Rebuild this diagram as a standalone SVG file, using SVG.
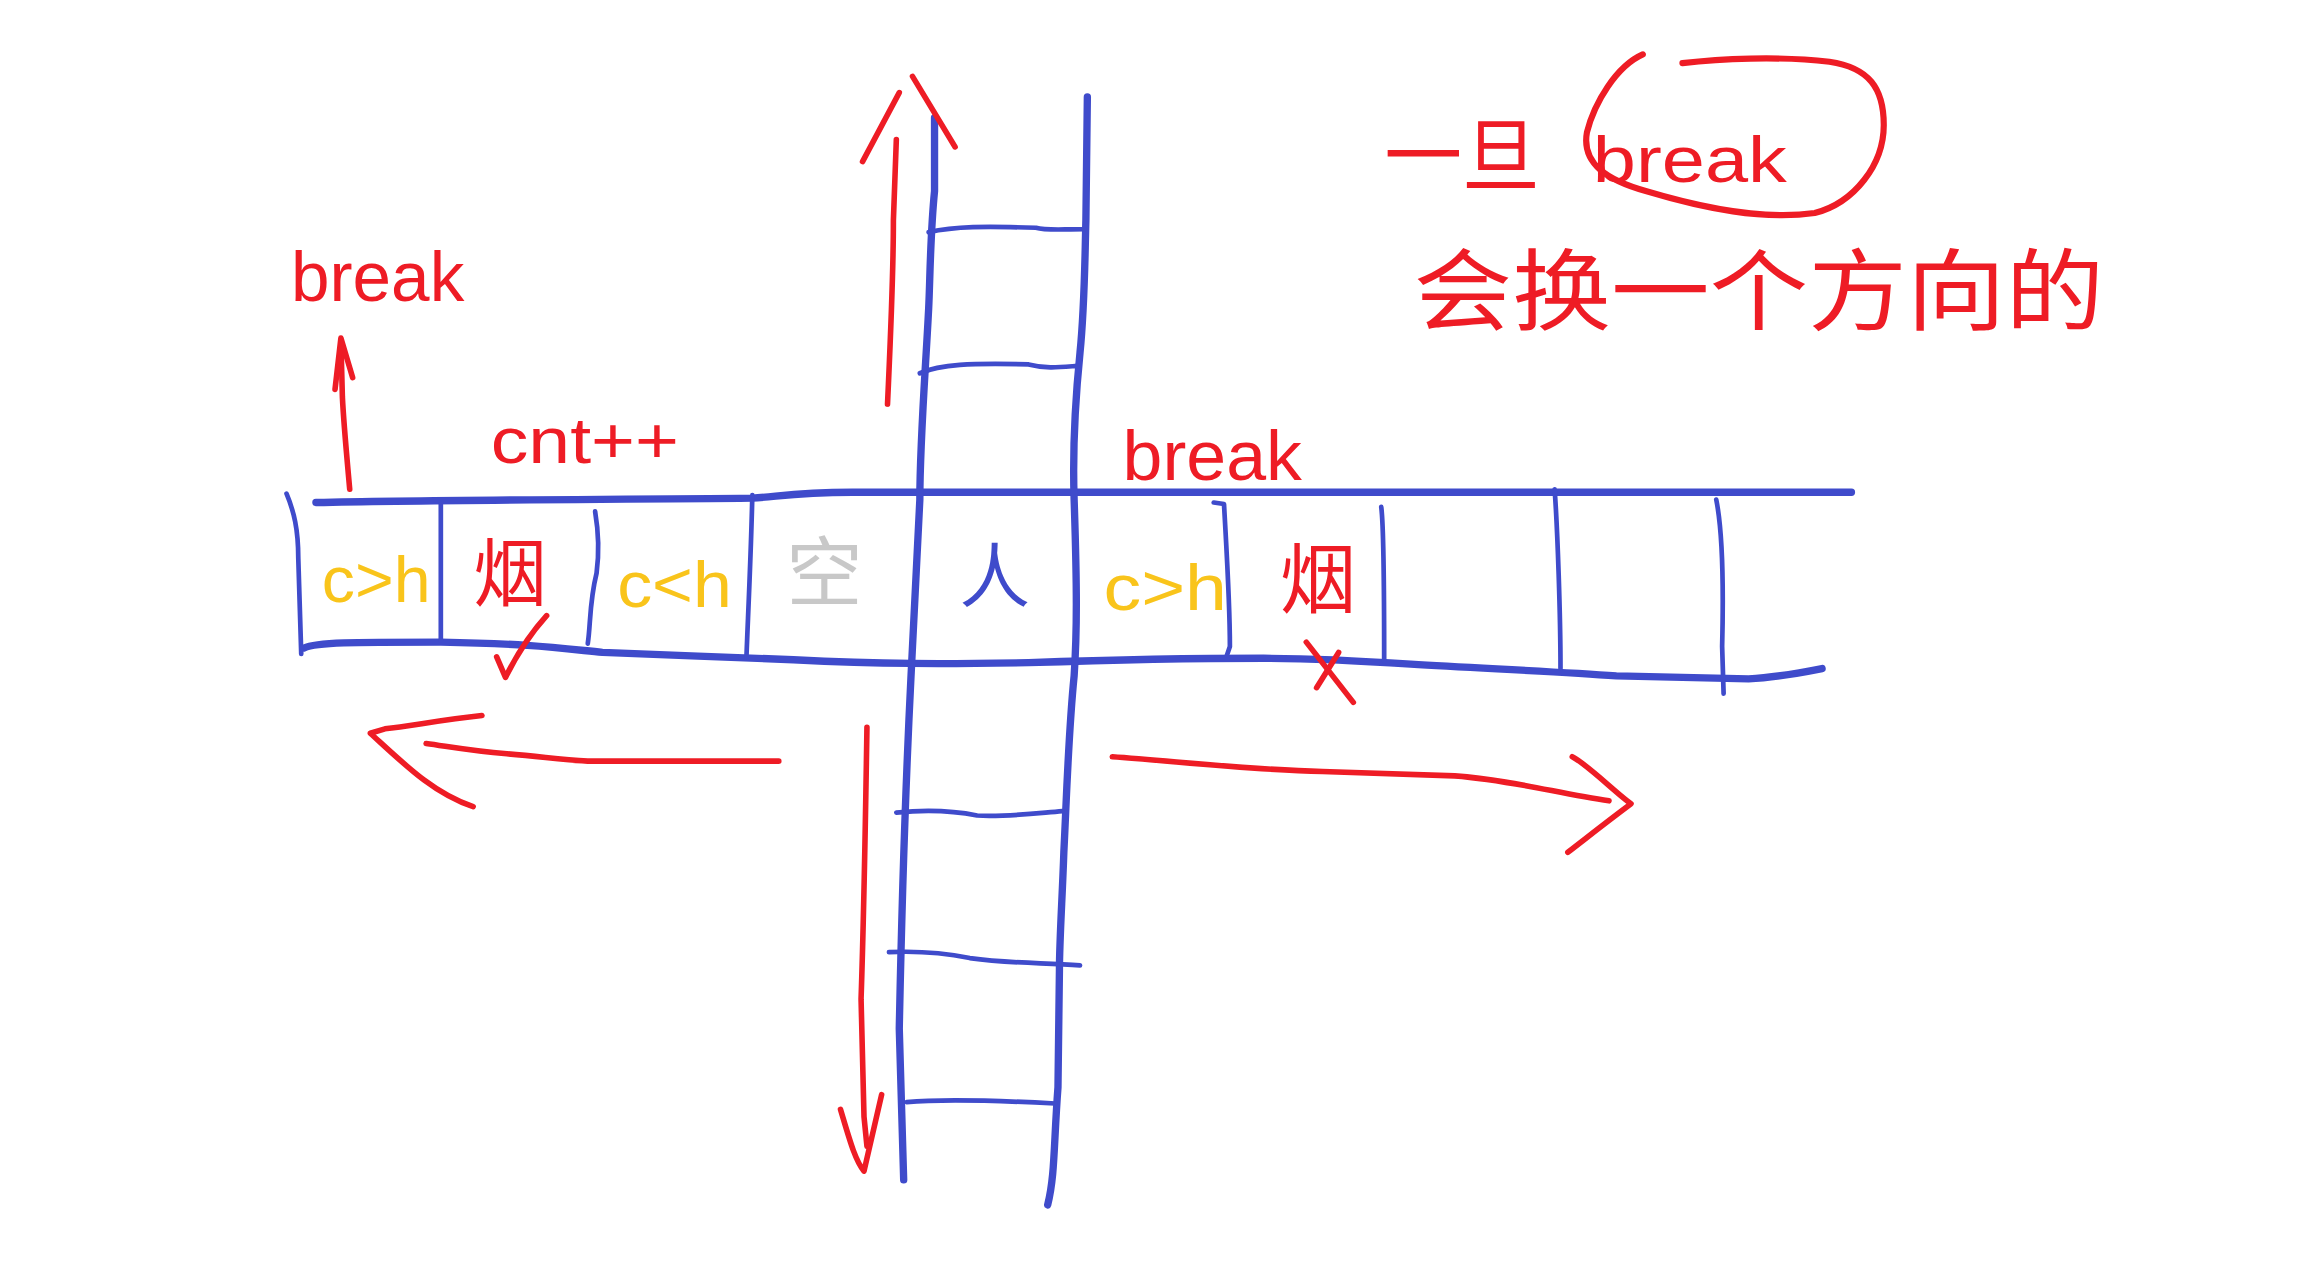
<svg xmlns="http://www.w3.org/2000/svg" width="2304" height="1266" viewBox="0 0 2304 1266">
<style>
.b{fill:none;stroke:#3F4BCB;stroke-linecap:round;stroke-linejoin:round}
.bt{stroke-width:5}
.bn{stroke-width:3.2}
.r{fill:none;stroke:#EE1C25;stroke-width:3.8;stroke-linecap:round;stroke-linejoin:round}
.t{font-family:"Liberation Sans","Noto Sans CJK SC",sans-serif}
.red{fill:#EE1C25}
.yel{fill:#F9C41B}
.gry{fill:#C8C8C8}
.blu{fill:#3F4BCB}
</style>
<rect width="2304" height="1266" fill="#fff"/>
<g transform="scale(1.4694)">
<g id="band-horizontal">
<path class="b bt" d="M215,342 C300,340 420,340 512,339 C530,338 540,335 580,335 L1260,335"/>
<path class="b bt" d="M207,441 C215,437 240,437 300,437 C360,438 380,441 410,444 C460,446 490,447 540,449 C600,452 640,452 700,451 C760,449 800,448 860,448 C900,448 930,450 960,452 C1010,455 1060,457 1100,460 L1190,462 C1210,461 1225,458 1240,455"/>
<path class="b bn" d="M195,336 C200,348 203,360 203,380 L205,445"/>
<path class="b bn" d="M300,343 L300,436"/>
<path class="b bn" d="M405,348 C407,360 408,375 406,390 C401,410 402,425 400,438"/>
<path class="b bn" d="M512,337 C511,380 509,420 508,447"/>
<path class="b bn" d="M826,342 L833,343 C835,380 837,410 837,440 L835,446"/>
<path class="b bn" d="M940,345 C942,360 942,420 942,450"/>
<path class="b bn" d="M1058,333 C1060,360 1062,420 1062,455"/>
<path class="b bn" d="M1168,340 C1172,360 1173,400 1172,440 L1173,472"/>
</g>
<g id="band-vertical">
<path class="b bt" d="M636,80 L636,130 C633,160 633,190 632,210 C630,250 626,300 626,340 L620,460 C617,520 614,600 612,700 L615,803"/>
<path class="b bt" d="M740,66 L739,150 C738,190 738,210 735,240 C731,280 730,310 731,340 C733,400 733,430 731,460 C727,500 726,540 724,580 C723,610 721,640 721,660 L720,740 C717,780 718,800 713,820"/>
<path class="b bn" d="M632,158 C650,154 670,154 705,155 C712,157 720,156 738,156"/>
<path class="b bn" d="M626,254 C640,248 660,247 700,248 C712,251 720,250 733,249"/>
<path class="b bn" d="M610,553 C630,551 650,552 665,555 C685,556 700,554 723,552"/>
<path class="b bn" d="M605,648 C625,647 640,648 660,652 C690,656 710,655 735,657"/>
<path class="b bn" d="M617,750 C640,748 680,749 718,751"/>
</g>
<g id="connectors">
<path class="r" d="M604,275 C606,230 608,190 608,150 L610,95"/>
<path class="r" d="M587,110 L612,63"/>
<path class="r" d="M621,52 L650,100"/>
<path class="r" d="M590,495 C589,560 588,620 586,680 L588,760 L590,780"/>
<path class="r" d="M572,755 C578,775 582,790 588,797 L600,745"/>
<path class="r" d="M530,518 L400,518 C380,517 370,515 345,513 C320,511 305,508 290,506"/>
<path class="r" d="M328,487 C300,490 280,494 262,496 L252,499 C275,520 295,540 322,549"/>
<path class="r" d="M757,515 C800,518 850,524 900,525 L990,528 C1030,531 1060,540 1095,545"/>
<path class="r" d="M1070,515 C1080,520 1100,540 1110,547 C1090,562 1080,570 1067,580"/>
<path class="r" d="M238,333 C236,310 234,290 233,270 L232,232"/>
<path class="r" d="M228,265 L232,230 L240,257"/>
</g>
<g id="cell-texts">
<text class="t yel" x="256" y="410" font-size="44" text-anchor="middle" textLength="74" lengthAdjust="spacingAndGlyphs">c&gt;h</text>
<text class="t red" x="347" y="408" font-size="50" text-anchor="middle">烟</text>
<text class="t yel" x="459" y="413" font-size="44" text-anchor="middle" textLength="78" lengthAdjust="spacingAndGlyphs">c&lt;h</text>
<text class="t gry" x="561" y="408" font-size="52" text-anchor="middle">空</text>
<text class="t blu" x="677" y="410" font-size="48" text-anchor="middle">人</text>
<text class="t yel" x="793" y="415" font-size="44" text-anchor="middle" textLength="84" lengthAdjust="spacingAndGlyphs">c&gt;h</text>
<text class="t red" x="897" y="413" font-size="52" text-anchor="middle">烟</text>
</g>
<g id="marks">
<path class="r" d="M338,447 L344,461 C352,445 362,430 372,419"/>
<path class="r" d="M889,437 L921,478"/>
<path class="r" d="M896,468 L911,444"/>
</g>
<g id="labels">
<text class="t red" x="198" y="205" font-size="48" textLength="118" lengthAdjust="spacingAndGlyphs">break</text>
<text class="t red" x="334" y="315" font-size="44" textLength="128" lengthAdjust="spacingAndGlyphs">cnt++</text>
<text class="t red" x="764" y="327" font-size="48" textLength="122" lengthAdjust="spacingAndGlyphs">break</text>
</g>
<g id="note">
<text class="t red" x="942" y="125" font-size="54" textLength="106" lengthAdjust="spacingAndGlyphs">一旦</text>
<text class="t red" x="1084" y="124" font-size="44" textLength="132" lengthAdjust="spacingAndGlyphs">break</text>
<path class="r" d="M1118,37 C1100,45 1085,70 1080,90 C1076,112 1095,123 1120,130 C1160,142 1200,150 1235,145 C1262,138 1282,112 1282,85 C1282,60 1272,46 1245,42 C1210,38 1170,40 1145,43" style="stroke-width:4.2"/>
<text class="t red" x="962" y="220" font-size="60" textLength="470" lengthAdjust="spacingAndGlyphs">会换一个方向的</text>
</g>
</g>
</svg>
